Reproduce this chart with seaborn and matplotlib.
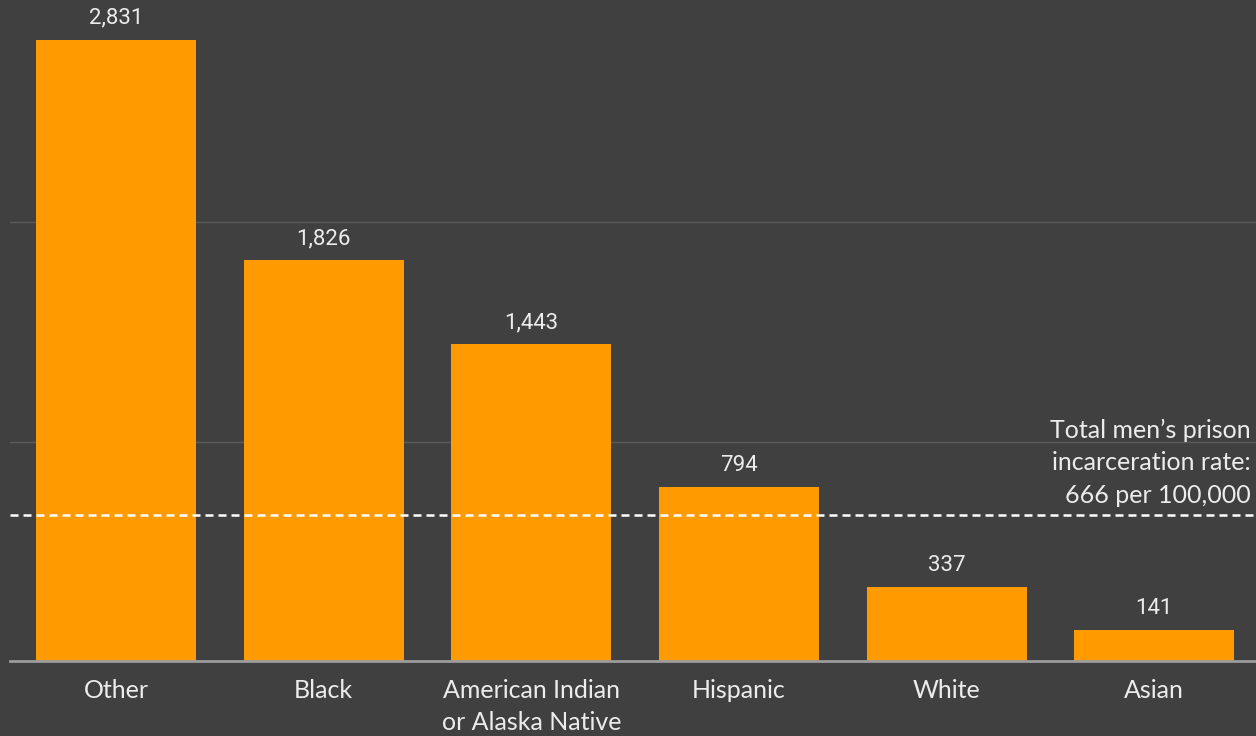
import matplotlib.pyplot as plt
import seaborn as sns

BG = "#404040"
ORANGE = "#FF9A00"
TXT = "#ECECEC"

groups = ["Other", "Black", "American Indian\nor Alaska Native", "Hispanic", "White", "Asian"]
rates = [2831, 1826, 1443, 794, 337, 141]
total_rate = 666

sns.set_theme(style="dark")
plt.rcParams["font.family"] = ["Lato", "DejaVu Sans"]

fig = plt.figure(figsize=(12.56, 7.36), dpi=100, facecolor=BG)
ax = fig.add_axes([0.008, 0.1019, 0.992, 0.8981])
ax.set_facecolor(BG)

ax.set_yticks([1000, 2000])
ax.yaxis.grid(True, color="#5A5A5A", linewidth=1)
ax.set_axisbelow(True)

sns.barplot(x=groups, y=rates, color=ORANGE, saturation=1, width=0.77,
            linewidth=0, ax=ax, zorder=2)

for i, v in enumerate(rates):
    ax.annotate(f"{v:,}", (i, v), xytext=(0, 8), textcoords="offset points",
                ha="center", va="bottom", color=TXT, fontsize=16,
                family=["Roboto", "DejaVu Sans"])

ax.axhline(total_rate, color="white", linestyle=(0, (3.2, 2)), linewidth=1.8, zorder=3)
ax.annotate("Total men\u2019s prison\nincarceration rate:\n666 per 100,000",
            xy=(0.996, total_rate), xycoords=("axes fraction", "data"),
            xytext=(0, 6), textcoords="offset points",
            ha="right", va="bottom", color=TXT, fontsize=18, linespacing=1.5)

ax.set_xlim(-0.51, 5.49)
ax.set_ylim(0, 3013)
ax.set_yticklabels([])
ax.tick_params(axis="y", length=0)
ax.tick_params(axis="x", length=0, pad=13, labelsize=18, labelcolor=TXT)
for lbl in ax.get_xticklabels():
    lbl.set_linespacing(1.45)
ax.set_xlabel("")
ax.set_ylabel("")

for side in ["top", "right", "left"]:
    ax.spines[side].set_visible(False)
ax.spines["bottom"].set_color("#9C9C9C")
ax.spines["bottom"].set_linewidth(2)

fig.savefig("out.png", facecolor=BG)
